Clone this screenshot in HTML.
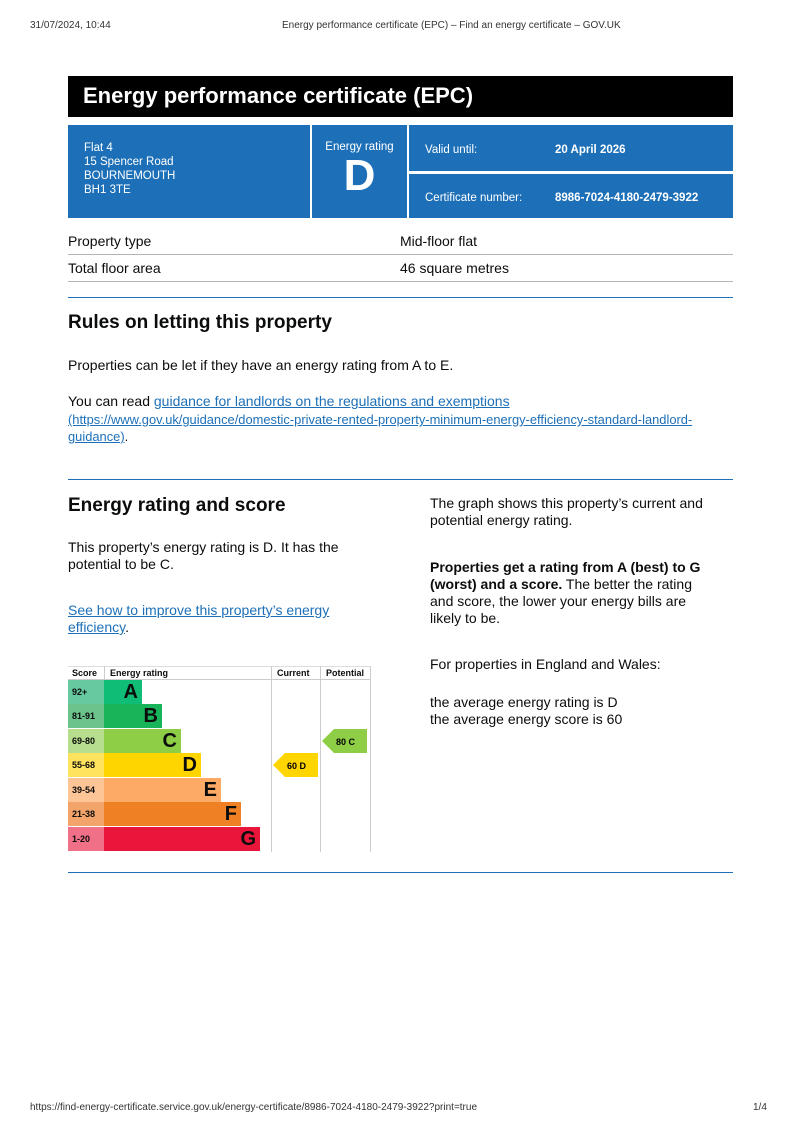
<!DOCTYPE html>
<html><head><meta charset="utf-8"><style>
body{margin:0;width:800px;height:1133px;background:#fff;font-family:"Liberation Sans",Arial,sans-serif;color:#0b0c0c;position:relative;overflow:hidden}
.a{position:absolute;white-space:nowrap}
.hr{position:absolute;left:68px;width:665px;height:1px;background:#1d70b8}
.gl{position:absolute;left:68px;width:665px;height:1px;background:#b1b4b6}
a{color:#1d70b8;text-decoration:underline}
.row{position:absolute;left:68px;height:24px}
.sc{position:absolute;left:0;width:36px;height:100%;font-size:9px;font-weight:bold;line-height:24px;padding-left:4px;box-sizing:border-box}
.bar{position:absolute;left:36px;height:100%;font-weight:bold;font-size:20px;line-height:25px;text-align:right;padding-right:4px;box-sizing:border-box}
</style></head><body>
<div class="a" style="left:30px;top:20px;font-size:10px;color:#333">31/07/2024, 10:44</div>
<div class="a" style="left:282px;top:20px;font-size:10px;color:#333">Energy performance certificate (EPC) – Find an energy certificate – GOV.UK</div>

<div class="a" style="left:68px;top:76px;width:665px;height:41px;background:#000"></div>
<div class="a" style="left:83px;top:83px;font-size:22px;font-weight:bold;color:#fff">Energy performance certificate (EPC)</div>

<div class="a" style="left:68px;top:125px;width:242px;height:93px;background:#1d70b8"></div>
<div class="a" style="left:312px;top:125px;width:95px;height:93px;background:#1d70b8"></div>
<div class="a" style="left:409px;top:125px;width:324px;height:46px;background:#1d70b8"></div>
<div class="a" style="left:409px;top:174px;width:324px;height:44px;background:#1d70b8"></div>
<div class="a" style="left:84px;top:141px;font-size:11.5px;line-height:14px;color:#fff">Flat 4<br>15 Spencer Road<br>BOURNEMOUTH<br>BH1 3TE</div>
<div class="a" style="left:312px;top:141px;width:95px;text-align:center;font-size:11.5px;color:#fff">Energy rating</div>
<div class="a" style="left:312px;top:151px;width:95px;text-align:center;font-size:44px;font-weight:bold;color:#fff">D</div>
<div class="a" style="left:425px;top:144px;font-size:11.5px;color:#fff">Valid until:</div>
<div class="a" style="left:555px;top:144px;font-size:11.5px;font-weight:bold;color:#fff">20 April 2026</div>
<div class="a" style="left:425px;top:192px;font-size:11.5px;color:#fff">Certificate number:</div>
<div class="a" style="left:555px;top:192px;font-size:11.5px;font-weight:bold;color:#fff">8986-7024-4180-2479-3922</div>

<div class="a" style="left:68px;top:233px;font-size:14px">Property type</div>
<div class="a" style="left:400px;top:233px;font-size:14px">Mid-floor flat</div>
<div class="gl" style="top:254px"></div>
<div class="a" style="left:68px;top:260px;font-size:14px">Total floor area</div>
<div class="a" style="left:400px;top:260px;font-size:14px">46 square metres</div>
<div class="gl" style="top:281px"></div>
<div class="hr" style="top:297px"></div>

<div class="a" style="left:68px;top:312px;font-size:19px;font-weight:bold">Rules on letting this property</div>
<div class="a" style="left:68px;top:357px;font-size:14px">Properties can be let if they have an energy rating from A to E.</div>
<div class="a" style="left:68px;top:393px;font-size:14px">You can read <a>guidance for landlords on the regulations and exemptions</a></div>
<div class="a" style="left:68px;top:411px;font-size:12.9px;line-height:17px"><a>(https://www.gov.uk/guidance/domestic-private-rented-property-minimum-energy-efficiency-standard-landlord-<br>guidance)</a>.</div>
<div class="hr" style="top:479px"></div>

<div class="a" style="left:68px;top:495px;font-size:19px;font-weight:bold">Energy rating and score</div>
<div class="a" style="left:68px;top:539px;font-size:14px;line-height:17px">This property’s energy rating is D. It has the<br>potential to be C.</div>
<div class="a" style="left:68px;top:602px;font-size:14px;line-height:17px"><a>See how to improve this property’s energy<br>efficiency</a>.</div>
<div class="a" style="left:430px;top:495px;font-size:14px;line-height:17px">The graph shows this property’s current and<br>potential energy rating.</div>
<div class="a" style="left:430px;top:559px;font-size:14px;line-height:17px"><b>Properties get a rating from A (best) to G<br>(worst) and a score.</b> The better the rating<br>and score, the lower your energy bills are<br>likely to be.</div>
<div class="a" style="left:430px;top:656px;font-size:14px">For properties in England and Wales:</div>
<div class="a" style="left:430px;top:694px;font-size:14px;line-height:17px">the average energy rating is D<br>the average energy score is 60</div>

<!-- chart -->
<div class="a" style="left:68px;top:666px;width:303px;height:1px;background:#ddd"></div>
<div class="a" style="left:68px;top:679px;width:303px;height:1px;background:#ccc"></div>
<div class="a" style="left:104px;top:666px;width:1px;height:14px;background:#ccc"></div>
<div class="a" style="left:271px;top:666px;width:1px;height:186px;background:#ccc"></div>
<div class="a" style="left:320px;top:666px;width:1px;height:186px;background:#ccc"></div>
<div class="a" style="left:370px;top:666px;width:1px;height:186px;background:#ccc"></div>
<div class="a" style="left:72px;top:668px;font-size:9px;font-weight:bold">Score</div>
<div class="a" style="left:110px;top:668px;font-size:9px;font-weight:bold">Energy rating</div>
<div class="a" style="left:277px;top:668px;font-size:9px;font-weight:bold">Current</div>
<div class="a" style="left:326px;top:668px;font-size:9px;font-weight:bold">Potential</div>

<div class="row" style="top:680px"><div class="sc" style="background:#66c9a0">92+</div><div class="bar" style="width:38px;background:#10bd77">A</div></div>
<div class="row" style="top:704px"><div class="sc" style="background:#6cc48c">81-91</div><div class="bar" style="width:58px;background:#19b459">B</div></div>
<div class="row" style="top:729px"><div class="sc" style="background:#b6de8e">69-80</div><div class="bar" style="width:77px;background:#8dce46">C</div></div>
<div class="row" style="top:753px"><div class="sc" style="background:#ffe35e">55-68</div><div class="bar" style="width:97px;background:#ffd500">D</div></div>
<div class="row" style="top:778px"><div class="sc" style="background:#fdc596">39-54</div><div class="bar" style="width:117px;background:#fcaa65">E</div></div>
<div class="row" style="top:802px"><div class="sc" style="background:#f2a46a">21-38</div><div class="bar" style="width:137px;background:#ef8023">F</div></div>
<div class="row" style="top:827px"><div class="sc" style="background:#f07088">1-20</div><div class="bar" style="width:156px;background:#e9153b">G</div></div>

<svg class="a" style="left:0;top:0" width="800" height="1133">
<polygon points="273,765 285,753 318,753 318,777 285,777" fill="#ffd500"/>
<text x="287" y="769" font-size="9" font-weight="bold" font-family="Liberation Sans">60  D</text>
<polygon points="322,741 334,729 367,729 367,753 334,753" fill="#8dce46"/>
<text x="336" y="745" font-size="9" font-weight="bold" font-family="Liberation Sans">80  C</text>
</svg>

<div class="hr" style="top:872px"></div>
<div class="a" style="left:30px;top:1102px;font-size:10px;color:#333">https://find-energy-certificate.service.gov.uk/energy-certificate/8986-7024-4180-2479-3922?print=true</div>
<div class="a" style="left:753px;top:1102px;font-size:10px;color:#333">1/4</div>
</body></html>
